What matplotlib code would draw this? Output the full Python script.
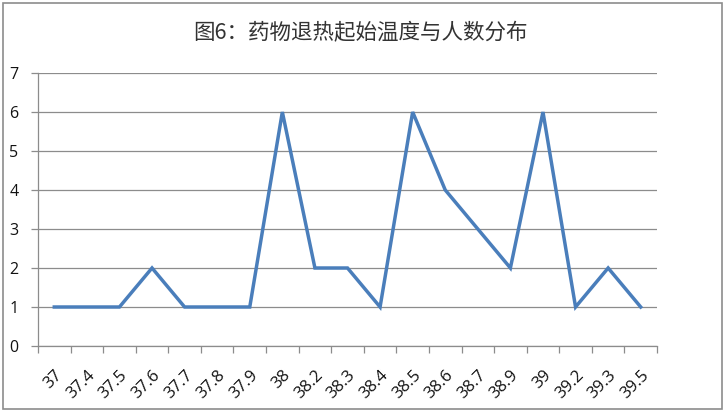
import matplotlib.pyplot as plt
from matplotlib.patches import Rectangle
from matplotlib.ticker import FixedLocator

plt.rcParams['font.family'] = ['Noto Sans CJK SC', 'DejaVu Sans']

title = '图6：药物退热起始温度与人数分布'
temps = ['37', '37.4', '37.5', '37.6', '37.7', '37.8', '37.9', '38', '38.2', '38.3',
         '38.4', '38.5', '38.6', '38.7', '38.9', '39', '39.2', '39.3', '39.5']
counts = [1, 1, 1, 2, 1, 1, 1, 6, 2, 2, 1, 6, 4, 3, 2, 6, 1, 2, 1]

dpi = 100
fig = plt.figure(figsize=(725 / dpi, 411 / dpi), dpi=dpi)
ax = fig.add_axes([38 / 725, 65 / 411, 619 / 725, 273 / 411])

x = list(range(len(temps)))
ax.plot(x, counts, color='#4a7ebb', linewidth=2.5, solid_joinstyle='miter')

ax.set_xlim(-0.5, len(temps) - 0.5)
ax.set_ylim(0, 7)
ax.set_yticks(range(8))
ax.grid(True, axis='y', color='#8c8c8c', linewidth=0.9)
ax.set_axisbelow(True)

num_font = ['Open Sans', 'DejaVu Sans']
ax.set_xticks(x)
ax.set_xticklabels(temps, rotation=45, ha='right', rotation_mode='anchor',
                   fontsize=12, family=num_font, color='#111111')
ax.xaxis.set_minor_locator(FixedLocator([i - 0.5 for i in range(len(temps) + 1)]))
ax.tick_params(axis='x', which='major', length=0, pad=15)
ax.tick_params(axis='x', which='minor', length=5, color='#8c8c8c', width=0.9)
ax.tick_params(axis='y', length=5, color='#8c8c8c', width=0.9, labelsize=11.5,
               labelcolor='#111111', pad=9)
for lab in ax.get_yticklabels():
    lab.set_family(num_font)

for side in ['top', 'right']:
    ax.spines[side].set_visible(False)
for side in ['left', 'bottom']:
    ax.spines[side].set_color('#8c8c8c')
    ax.spines[side].set_linewidth(0.9)

fig.text(0.497, 1 - 33 / 411, title, ha='center', va='center', fontsize=15.5, color='#333333')
fig.patches.append(Rectangle((3 / 725, 2 / 411), 719 / 725, 406 / 411, transform=fig.transFigure,
                             fill=False, edgecolor='#8c8c8c', linewidth=1.2))

fig.savefig('out.png', dpi=dpi)
